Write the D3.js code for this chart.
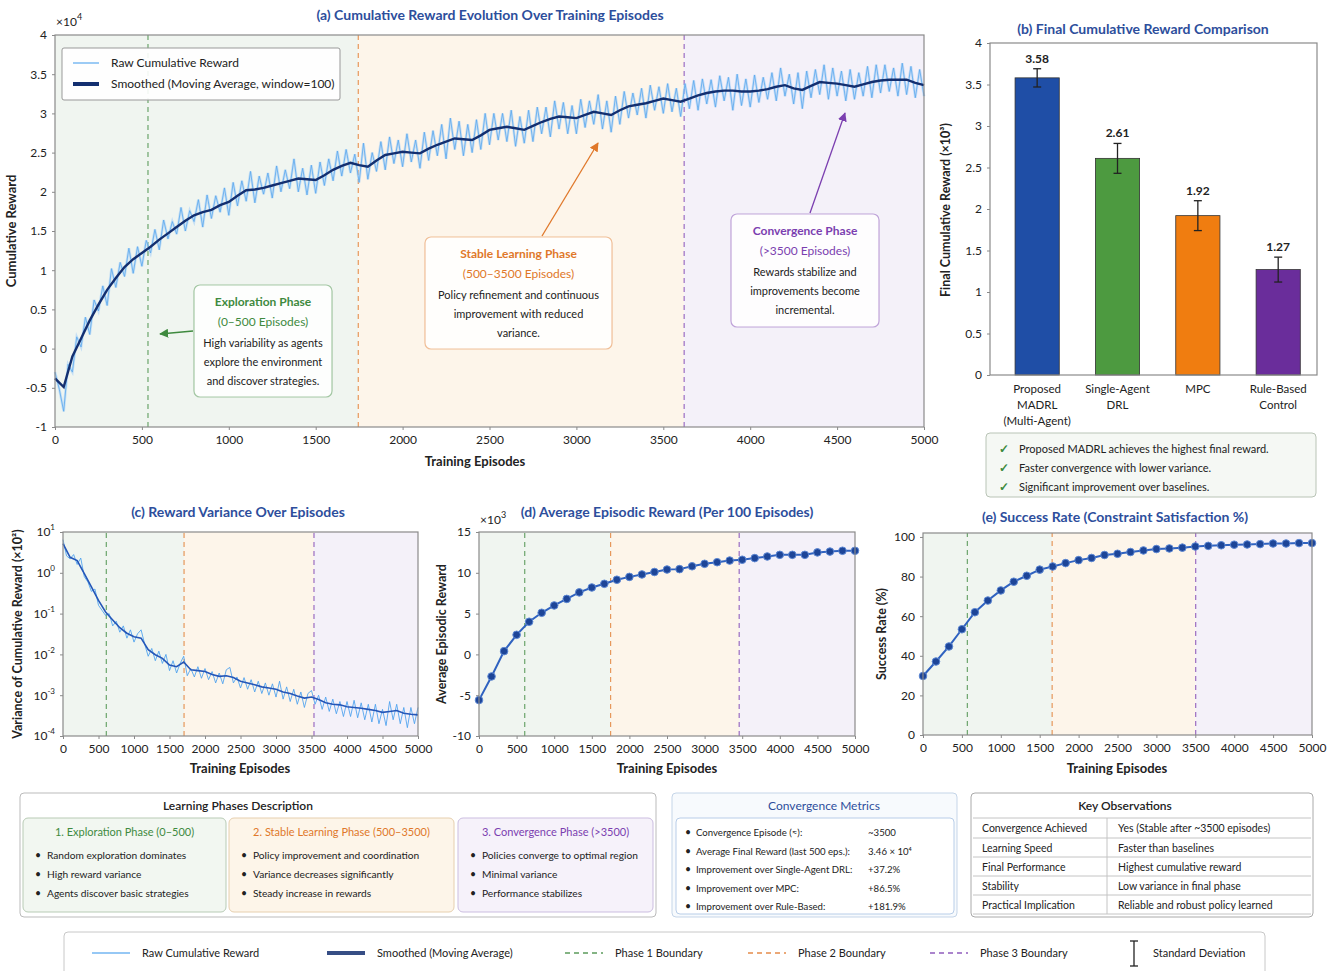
<!DOCTYPE html>
<html><head><meta charset="utf-8">
<script src="https://cdn.jsdelivr.net/npm/d3@7"></script>
<style>
body{margin:0;background:#fff;}
svg{font-family:Lato,"Open Sans",sans-serif;}
</style></head><body>
<script>
// ---------- data ----------
const episodeTicks = [0,500,1000,1500,2000,2500,3000,3500,4000,4500,5000];

// (a) raw cumulative reward (x1e4), one value every 25 episodes
const rawStep = 25;
const rawA = [
 -0.30,-0.52,-0.80,-0.20,-0.30,0.15,0.02,0.40,0.18,0.62,0.48,0.80,0.55,1.02,0.78,1.10,0.92,1.28,0.96,1.30,
 1.05,1.38,1.22,1.52,1.26,1.64,1.40,1.62,1.46,1.80,1.50,1.76,1.62,1.90,1.55,1.96,1.66,1.95,1.74,2.05,
 1.70,2.12,1.82,2.14,1.88,2.26,1.86,2.20,1.97,2.24,1.92,2.33,2.00,2.28,2.04,2.42,2.00,2.30,1.96,2.34,
 1.98,2.38,2.08,2.42,2.14,2.52,2.20,2.54,2.24,2.48,2.12,2.62,2.16,2.50,2.26,2.64,2.28,2.70,2.36,2.66,
 2.32,2.74,2.38,2.66,2.30,2.76,2.40,2.78,2.46,2.86,2.42,2.94,2.54,2.90,2.46,2.86,2.50,2.92,2.54,3.00,
 2.60,3.00,2.66,3.00,2.64,3.04,2.58,2.96,2.62,3.04,2.64,3.08,2.74,3.08,2.70,3.16,2.80,3.14,2.74,3.10,
 2.74,3.18,2.82,3.16,2.86,3.24,2.80,3.16,2.76,3.22,2.86,3.28,2.94,3.26,2.98,3.32,2.94,3.36,3.04,3.34,
 3.00,3.38,3.02,3.32,2.96,3.38,3.06,3.42,3.04,3.44,3.12,3.43,3.08,3.48,3.16,3.46,3.04,3.50,3.10,3.44,
 3.08,3.49,3.14,3.46,3.18,3.52,3.16,3.58,3.22,3.50,3.12,3.52,3.06,3.54,3.20,3.56,3.24,3.62,3.18,3.58,
 3.22,3.54,3.16,3.56,3.18,3.52,3.22,3.60,3.20,3.62,3.26,3.62,3.28,3.58,3.22,3.64,3.24,3.60,3.20,3.56,3.22
];
// (a) smoothed (moving average), one value every 50 episodes
const smoothStep = 50;
const smoothA = [
 -0.38,-0.49,-0.10,0.13,0.36,0.56,0.75,0.90,1.04,1.14,
 1.22,1.30,1.39,1.47,1.55,1.63,1.70,1.74,1.77,1.83,
 1.87,1.95,2.02,2.03,2.05,2.08,2.11,2.14,2.17,2.16,
 2.15,2.21,2.28,2.33,2.37,2.34,2.32,2.40,2.47,2.49,
 2.51,2.50,2.49,2.55,2.60,2.64,2.68,2.67,2.66,2.72,
 2.79,2.81,2.83,2.81,2.79,2.84,2.89,2.93,2.96,2.95,
 2.94,2.98,3.02,3.00,2.98,3.04,3.09,3.11,3.13,3.16,
 3.19,3.17,3.15,3.19,3.23,3.26,3.28,3.29,3.29,3.28,
 3.28,3.29,3.31,3.34,3.36,3.32,3.30,3.35,3.40,3.39,
 3.38,3.36,3.34,3.37,3.40,3.42,3.43,3.43,3.43,3.39,3.36
];
const boundA = [535, 1745, 3620];

// (b) final cumulative reward (x1e4)
const methods = ["Proposed MADRL (Multi-Agent)", "Single-Agent DRL", "MPC", "Rule-Based Control"];
const methodLines = [["Proposed","MADRL","(Multi-Agent)"],["Single-Agent","DRL"],["MPC"],["Rule-Based","Control"]];
const finalReward = [3.58, 2.61, 1.92, 1.27];
const finalStd = [0.11, 0.18, 0.18, 0.15];
const barColors = ["#1f4ea6", "#4d9a40", "#f07d10", "#6a2d9b"];
const checks = ["Proposed MADRL achieves the highest final reward.", "Faster convergence with lower variance.", "Significant improvement over baselines."];

// (c) variance of cumulative reward (x1e2)
const varRawStep = 50;
const varRaw = [6.5,2.6,2.2,2.8,1.6,2.3,0.8,0.6,0.35,0.4,0.16,0.12,0.09,0.1,0.05,0.065,0.035,0.05,0.025,0.04,
 0.02,0.032,0.04,0.018,0.009,0.014,0.007,0.012,0.006,0.01,0.004,0.007,0.0035,0.006,0.009,0.003,0.0045,0.0028,0.005,0.0026,
 0.0045,0.0024,0.0038,0.002,0.0035,0.0019,0.0042,0.0048,0.002,0.0028,0.0015,0.0027,0.0014,0.0024,0.0012,0.0022,0.0011,0.002,0.001,0.0019,
 0.0009,0.0022,0.0008,0.0016,0.0007,0.0014,0.0006,0.0012,0.0005,0.0011,0.0013,0.0006,0.001,0.00045,0.0009,0.0004,0.0008,0.00035,0.0007,0.0003,
 0.0007,0.0003,0.00075,0.00028,0.00065,0.00025,0.0006,0.00022,0.0006,0.0002,0.00045,0.00018,0.0007,0.00025,0.0006,0.0002,0.0005,0.00016,0.0005,0.0002,0.0005];
const varSmoothStep = 100;
const varSmooth = [5.2,2.4,2.0,0.95,0.45,0.21,0.11,0.07,0.045,0.033,0.027,0.025,0.013,0.0098,0.008,0.0055,0.005,0.0065,0.0042,0.004,
 0.0038,0.0032,0.0029,0.003,0.0027,0.0022,0.002,0.0018,0.0016,0.0015,0.0014,0.0012,0.0011,0.00095,0.00085,0.0009,0.00078,0.00065,0.0006,0.00058,
 0.00052,0.0005,0.00048,0.00045,0.00042,0.00038,0.0004,0.00042,0.00036,0.00034,0.00033];
const boundC = [610, 1705, 3535];

// (d) average episodic reward per block (x1e3), (e) success rate %
const blockStep = 5000/30;
const avgReward = [-5.6,-2.7,0.4,2.4,4.0,5.1,6.0,6.8,7.6,8.2,8.65,9.15,9.5,9.8,10.1,10.4,10.45,10.8,11.1,11.3,11.5,11.6,11.8,12.0,12.2,12.2,12.2,12.5,12.6,12.7,12.7];
const boundD = [608, 1750, 3460];
const successRate = [29.8,37.1,44.7,53.4,62.0,67.9,73.0,77.4,80.4,83.5,85.1,86.8,88.3,89.4,90.9,91.5,92.4,93.2,93.9,94.2,94.6,95.2,95.5,95.8,96.1,96.2,96.4,96.7,96.7,96.9,96.9];
const boundE = [570, 1660, 3505];

// bottom tables
const phaseTitles = ["1. Exploration Phase (0–500)", "2. Stable Learning Phase (500–3500)", "3. Convergence Phase (>3500)"];
const phaseBullets = [
 ["Random exploration dominates","High reward variance","Agents discover basic strategies"],
 ["Policy improvement and coordination","Variance decreases significantly","Steady increase in rewards"],
 ["Policies converge to optimal region","Minimal variance","Performance stabilizes"]];
const metricNames = ["Convergence Episode (≈):","Average Final Reward (last 500 eps.):","Improvement over Single-Agent DRL:","Improvement over MPC:","Improvement over Rule-Based:"];
const metricValues = ["~3500","3.46 × 10⁴","+37.2%","+86.5%","+181.9%"];
const obsKeys = ["Convergence Achieved","Learning Speed","Final Performance","Stability","Practical Implication"];
const obsVals = ["Yes (Stable after ~3500 episodes)","Faster than baselines","Highest cumulative reward","Low variance in final phase","Reliable and robust policy learned"];

// ---------- drawing ----------
const C = {green:"#3f8a3f", orange:"#e0782a", purple:"#7b3fb0", title:"#2d4e9c",
  raw:"#5aa8ee", smooth:"#132f70", line:"#2f62c0", bgG:"#f0f5f0", bgO:"#fdf5ea", bgP:"#f4f1f9", frame:"#8a8a8a", txt:"#222"};
const phaseCols = [C.green, C.orange, C.purple];

const svg = d3.select("body").append("svg").attr("width",1333).attr("height",971);
const defs = svg.append("defs");
[["g",C.green],["o",C.orange],["p",C.purple]].forEach(([id,c])=>{
  defs.append("marker").attr("id","arr"+id).attr("viewBox","0 0 10 10").attr("refX",9).attr("refY",5)
    .attr("markerWidth",7).attr("markerHeight",7).attr("orient","auto")
    .append("path").attr("d","M0,0L10,5L0,10z").attr("fill",c);
});

function phaseBg(g,x,y,b){
  const dom = x.domain(), r = y.range();
  const regs = [[dom[0],b[1],C.bgG],[b[1],b[2],C.bgO],[b[2],dom[1],C.bgP]];
  g.selectAll(null).data(regs).join("rect")
    .attr("x",d=>x(d[0])).attr("width",d=>x(d[1])-x(d[0]))
    .attr("y",r[1]).attr("height",r[0]-r[1]).attr("fill",d=>d[2]);
}
function phaseLines(g,x,y,b){
  const r = y.range();
  g.selectAll(null).data(b).join("line")
    .attr("x1",d=>x(d)).attr("x2",d=>x(d)).attr("y1",r[0]).attr("y2",r[1])
    .attr("stroke",(d,i)=>phaseCols[i]).attr("stroke-opacity",0.75)
    .attr("stroke-width",1.2).attr("stroke-dasharray","5,4");
}
function frame(g,x,y){
  const xr=x.range(), yr=y.range();
  g.append("rect").attr("x",xr[0]).attr("y",yr[1]).attr("width",xr[1]-xr[0]).attr("height",yr[0]-yr[1])
    .attr("fill","none").attr("stroke",C.frame).attr("stroke-width",1.2);
}
function xAxis(g,x,y,vals){
  const a = g.append("g").attr("transform",`translate(0,${y.range()[0]})`)
    .call(d3.axisBottom(x).tickValues(vals).tickSize(3).tickPadding(5).tickFormat(d=>d));
  a.select(".domain").remove();
  a.attr("font-family",null).attr("font-size",12);
  a.selectAll("text").attr("fill",C.txt);
  a.selectAll("line").attr("stroke",C.frame);
  return a;
}
function yAxis(g,x,y,vals,fmt){
  const a = g.append("g").attr("transform",`translate(${x.range()[0]},0)`)
    .call(d3.axisLeft(y).tickValues(vals).tickSize(3).tickPadding(5).tickFormat(fmt||(d=>String(d))));
  a.select(".domain").remove();
  a.attr("font-family",null).attr("font-size",12);
  a.selectAll("text").attr("fill",C.txt);
  a.selectAll("line").attr("stroke",C.frame);
  return a;
}
function title(t,x,y){
  svg.append("text").attr("x",x).attr("y",y).attr("text-anchor","middle")
    .attr("font-size",14).attr("font-weight",700).attr("fill",C.title).text(t);
}
function label(t,x,y,rot,size){
  const e = svg.append("text").attr("text-anchor","middle").attr("font-size",size||13).attr("font-weight",700).attr("fill",C.txt).text(t);
  if(rot) e.attr("transform",`translate(${x},${y}) rotate(-90)`); else e.attr("x",x).attr("y",y);
  return e;
}
function sciLabel(x,y,exp){
  const t = svg.append("text").attr("x",x).attr("y",y).attr("font-size",12).attr("fill",C.txt).text("×10");
  t.append("tspan").attr("dy",-6).attr("font-size",9).text(exp);
}

// ===== (a) =====
const xA = d3.scaleLinear().domain([0,5000]).range([55,924]);
const yA = d3.scaleLinear().domain([-1,4]).range([427,35]);
const gA = svg.append("g");
phaseBg(gA,xA,yA,boundA);
phaseLines(gA,xA,yA,boundA);
const rawLine = d3.line().x((d,i)=>xA(i*rawStep)).y(d=>yA(d));
gA.append("path").datum(rawA).attr("d",rawLine)
  .attr("fill","none").attr("stroke","#a9d0f6").attr("stroke-width",2.6).attr("stroke-opacity",0.6);
gA.append("path").datum(rawA).attr("d",rawLine)
  .attr("fill","none").attr("stroke",C.raw).attr("stroke-width",0.9).attr("stroke-opacity",0.9);
gA.append("path").datum(smoothA)
  .attr("d",d3.line().x((d,i)=>xA(i*smoothStep)).y(d=>yA(d)))
  .attr("fill","none").attr("stroke",C.smooth).attr("stroke-width",2.4);
frame(gA,xA,yA);
xAxis(gA,xA,yA,episodeTicks);
yAxis(gA,xA,yA,d3.range(-1,4.01,0.5));
sciLabel(56,26,"4");
title("(a) Cumulative Reward Evolution Over Training Episodes",490,20);
label("Cumulative Reward",16,231,true);
label("Training Episodes",475,466);

// legend (a)
const lgA = svg.append("g");
lgA.append("rect").attr("x",62).attr("y",48).attr("width",278).attr("height",52).attr("rx",2)
  .attr("fill","#fff").attr("fill-opacity",0.9).attr("stroke","#999");
lgA.append("line").attr("x1",73).attr("x2",99).attr("y1",63).attr("y2",63).attr("stroke",C.raw).attr("stroke-width",1.2);
lgA.append("line").attr("x1",73).attr("x2",99).attr("y1",84).attr("y2",84).attr("stroke",C.smooth).attr("stroke-width",4);
lgA.append("text").attr("x",111).attr("y",67).attr("font-size",12).attr("fill",C.txt).text("Raw Cumulative Reward");
lgA.append("text").attr("x",111).attr("y",88).attr("font-size",12).attr("fill",C.txt).text("Smoothed (Moving Average, window=100)");

// annotation boxes
const notes = [
  {x:194,y:285,w:138,h:112,c:C.green,m:"g",head:["Exploration Phase","(0–500 Episodes)"],body:["High variability as agents","explore the environment","and discover strategies."],a:[193,331,160,334]},
  {x:425,y:237,w:187,h:112,c:C.orange,m:"o",head:["Stable Learning Phase","(500–3500 Episodes)"],body:["Policy refinement and continuous","improvement with reduced","variance."],a:[542,236,598,143]},
  {x:731,y:214,w:148,h:113,c:C.purple,m:"p",head:["Convergence Phase","(>3500 Episodes)"],body:["Rewards stabilize and","improvements become","incremental."],a:[810,213,845,113]}
];
notes.forEach(n=>{
  const g = svg.append("g");
  g.append("line").attr("x1",n.a[0]).attr("y1",n.a[1]).attr("x2",n.a[2]).attr("y2",n.a[3])
    .attr("stroke",n.c).attr("stroke-width",1.3).attr("marker-end",`url(#arr${n.m})`);
  g.append("rect").attr("x",n.x).attr("y",n.y).attr("width",n.w).attr("height",n.h).attr("rx",6)
    .attr("fill","#fff").attr("fill-opacity",0.85).attr("stroke",n.c).attr("stroke-opacity",0.45).attr("stroke-width",1.2);
  const cx = n.x+n.w/2;
  n.head.forEach((t,i)=>g.append("text").attr("x",cx).attr("y",n.y+21+i*20).attr("text-anchor","middle")
    .attr("font-size",12).attr("font-weight",i===0?700:400).attr("fill",n.c).text(t));
  n.body.forEach((t,i)=>g.append("text").attr("x",cx).attr("y",n.y+62+i*19).attr("text-anchor","middle")
    .attr("font-size",11).attr("fill",C.txt).text(t));
});

// ===== (b) =====
const xB = d3.scaleBand().domain(methods).range([990,1317]).paddingInner(0.45).paddingOuter(0.26).align(0.6);
const yB = d3.scaleLinear().domain([0,4]).range([375,43]);
const gB = svg.append("g");
gB.selectAll(null).data(finalReward).join("rect")
  .attr("x",(d,i)=>xB(methods[i])).attr("width",xB.bandwidth())
  .attr("y",d=>yB(d)).attr("height",d=>yB(0)-yB(d))
  .attr("fill",(d,i)=>barColors[i]).attr("stroke","#333").attr("stroke-width",0.8);
finalReward.forEach((v,i)=>{
  const cx = xB(methods[i])+xB.bandwidth()/2, lo=yB(v-finalStd[i]), hi=yB(v+finalStd[i]);
  gB.append("line").attr("x1",cx).attr("x2",cx).attr("y1",lo).attr("y2",hi).attr("stroke","#222").attr("stroke-width",1.3);
  [lo,hi].forEach(yy=>gB.append("line").attr("x1",cx-4).attr("x2",cx+4).attr("y1",yy).attr("y2",yy).attr("stroke","#222").attr("stroke-width",1.3));
  gB.append("text").attr("x",cx).attr("y",hi-6).attr("text-anchor","middle").attr("font-size",12).attr("font-weight",700)
    .attr("fill",C.txt).text(v.toFixed(2));
  methodLines[i].forEach((t,j)=>gB.append("text").attr("x",cx).attr("y",393+j*16).attr("text-anchor","middle")
    .attr("font-size",11.5).attr("fill",C.txt).text(t));
});
gB.append("rect").attr("x",990).attr("y",43).attr("width",327).attr("height",332).attr("fill","none").attr("stroke",C.frame).attr("stroke-width",1.2);
yAxis(gB,d3.scaleLinear().range([990,1317]),yB,d3.range(0,4.01,0.5));
title("(b) Final Cumulative Reward Comparison",1143,34);
label("Final Cumulative  Reward  (×10³)",950,210,true,12.5);

const ck = svg.append("g");
ck.append("rect").attr("x",986).attr("y",433).attr("width",330).attr("height",64).attr("rx",4)
  .attr("fill","#f5f8f4").attr("stroke","#b9c4b6");
checks.forEach((t,i)=>{
  ck.append("text").attr("x",999).attr("y",453+i*19).attr("font-size",12).attr("fill","#3c8a3c").attr("font-weight",700).text("✓");
  ck.append("text").attr("x",1019).attr("y",453+i*19).attr("font-size",11).attr("fill",C.txt).text(t);
});

// ===== (c) =====
const xC = d3.scaleLinear().domain([0,5000]).range([63,418]);
const yC = d3.scaleLog().domain([1e-4,1e1]).range([736,532]);
const gC = svg.append("g");
phaseBg(gC,xC,yC,boundC);
phaseLines(gC,xC,yC,boundC);
gC.append("path").datum(varRaw)
  .attr("d",d3.line().x((d,i)=>xC(i*varRawStep)).y(d=>yC(d)))
  .attr("fill","none").attr("stroke","#4aa0ee").attr("stroke-width",1).attr("stroke-opacity",0.85);
gC.append("path").datum(varSmooth)
  .attr("d",d3.line().x((d,i)=>xC(i*varSmoothStep)).y(d=>yC(d)))
  .attr("fill","none").attr("stroke","#2456b8").attr("stroke-width",1.6);
frame(gC,xC,yC);
xAxis(gC,xC,yC,episodeTicks);
const yaC = yAxis(gC,xC,yC,[1e1,1e0,1e-1,1e-2,1e-3,1e-4],d=>"");
yaC.selectAll(".tick text").each(function(d){
  const t = d3.select(this); t.text("10");
  t.append("tspan").attr("dy",-6).attr("font-size",8).text(Math.round(Math.log10(d)));
});
title("(c) Reward Variance Over Episodes",238,517);
label("Variance of Cumulative Reward (×10²)",22,634,true,12.5);
label("Training Episodes",240,773);

// ===== (d) & (e) =====
function markerPanel(vals,x,y,b){
  const g = svg.append("g");
  phaseBg(g,x,y,b);
  phaseLines(g,x,y,b);
  g.append("path").datum(vals).attr("d",d3.line().x((d,i)=>x(i*blockStep)).y(d=>y(d)))
    .attr("fill","none").attr("stroke",C.line).attr("stroke-width",2);
  g.selectAll(null).data(vals).join("circle").attr("cx",(d,i)=>x(i*blockStep)).attr("cy",d=>y(d)).attr("r",3.8)
    .attr("fill","#1d4598").attr("stroke","#5d88d4").attr("stroke-width",1);
  frame(g,x,y);
  xAxis(g,x,y,episodeTicks);
  return g;
}
const xD = d3.scaleLinear().domain([0,5000]).range([479,855]);
const yD = d3.scaleLinear().domain([-10,15]).range([736,532]);
const gD = markerPanel(avgReward,xD,yD,boundD);
yAxis(gD,xD,yD,[-10,-5,0,5,10,15]);
sciLabel(480,524,"3");
title("(d) Average Episodic Reward (Per 100 Episodes)",667,517);
label("Average Episodic Reward",446,634,true,12.5);
label("Training Episodes",667,773);

const xE = d3.scaleLinear().domain([0,5000]).range([923,1312]);
const yE = d3.scaleLinear().domain([0,102]).range([735,533]);
const gE = markerPanel(successRate,xE,yE,boundE);
yAxis(gE,xE,yE,[0,20,40,60,80,100]);
title("(e) Success Rate (Constraint Satisfaction %)",1115,522);
label("Success Rate (%)",886,634,true,12.5);
label("Training Episodes",1117,773);

// ===== bottom boxes =====
const gb = svg.append("g");
gb.append("rect").attr("x",20).attr("y",793).attr("width",636).attr("height",124).attr("rx",4).attr("fill","#fff").attr("stroke","#bbb");
gb.append("text").attr("x",238).attr("y",810).attr("text-anchor","middle").attr("font-size",12).attr("font-weight",600).attr("fill",C.txt).text("Learning Phases Description");
const sub = [{x:23,w:203,bg:"#f2f7f1",st:"#b8cbb5"},{x:229,w:225,bg:"#fdf5e9",st:"#e6cfae"},{x:458,w:195,bg:"#f6f2fa",st:"#cbbde0"}];
sub.forEach((s,i)=>{
  gb.append("rect").attr("x",s.x).attr("y",818).attr("width",s.w).attr("height",94).attr("rx",5).attr("fill",s.bg).attr("stroke",s.st);
  gb.append("text").attr("x",s.x+s.w/2).attr("y",836).attr("text-anchor","middle").attr("font-size",11).attr("fill",phaseCols[i]).text(phaseTitles[i]);
  phaseBullets[i].forEach((t,j)=>{
    gb.append("text").attr("x",s.x+12).attr("y",859+j*19).attr("font-size",10.5).attr("fill",C.txt).text("•");
    gb.append("text").attr("x",s.x+24).attr("y",859+j*19).attr("font-size",10.2).attr("fill",C.txt).text(t);
  });
});

gb.append("rect").attr("x",672).attr("y",793).attr("width",285).attr("height",124).attr("rx",4).attr("fill","#f7fafd").attr("stroke","#c5d5e8");
gb.append("text").attr("x",824).attr("y",810).attr("text-anchor","middle").attr("font-size",12).attr("fill",C.title).text("Convergence Metrics");
gb.append("rect").attr("x",676).attr("y",818).attr("width",278).attr("height",96).attr("rx",4).attr("fill","#fff").attr("stroke","#b8cde8");
metricNames.forEach((t,j)=>{
  const yy = 836+j*18.5;
  gb.append("text").attr("x",685).attr("y",yy).attr("font-size",10.5).attr("fill",C.txt).text("•");
  gb.append("text").attr("x",696).attr("y",yy).attr("font-size",9.6).attr("fill",C.txt).text(t);
  gb.append("text").attr("x",868).attr("y",yy).attr("font-size",9.6).attr("fill",C.txt).text(metricValues[j]);
});

gb.append("rect").attr("x",971).attr("y",793).attr("width",342).attr("height",124).attr("rx",4).attr("fill","#fff").attr("stroke","#aaa");
gb.append("text").attr("x",1125).attr("y",810).attr("text-anchor","middle").attr("font-size",12).attr("font-weight",600).attr("fill",C.txt).text("Key Observations");
const rowY = [818,838,857,876,895,914];
rowY.forEach(yy=>gb.append("line").attr("x1",973).attr("x2",1311).attr("y1",yy).attr("y2",yy).attr("stroke","#c4c4c4"));
gb.append("line").attr("x1",1107).attr("x2",1107).attr("y1",818).attr("y2",914).attr("stroke","#c4c4c4");
obsKeys.forEach((t,j)=>{
  const yy = (rowY[j]+rowY[j+1])/2+4;
  gb.append("text").attr("x",982).attr("y",yy).attr("font-size",10.5).attr("fill",C.txt).text(t);
  gb.append("text").attr("x",1118).attr("y",yy).attr("font-size",10.5).attr("fill",C.txt).text(obsVals[j]);
});

// ===== bottom legend =====
const lg = svg.append("g");
lg.append("rect").attr("x",64).attr("y",932).attr("width",1201).attr("height",44).attr("rx",4).attr("fill","#fff").attr("stroke","#c8c8c8");
const items = [
  {x:92,t:"Raw Cumulative Reward",c:C.raw,w:1.5,d:null},
  {x:327,t:"Smoothed (Moving Average)",c:C.smooth,w:4,d:null},
  {x:565,t:"Phase 1 Boundary",c:C.green,w:1.5,d:"5,4"},
  {x:748,t:"Phase 2 Boundary",c:C.orange,w:1.5,d:"5,4"},
  {x:930,t:"Phase 3 Boundary",c:C.purple,w:1.5,d:"5,4"}
];
items.forEach(it=>{
  lg.append("line").attr("x1",it.x).attr("x2",it.x+38).attr("y1",953).attr("y2",953)
    .attr("stroke",it.c).attr("stroke-width",it.w).attr("stroke-dasharray",it.d).attr("stroke-opacity",0.85);
  lg.append("text").attr("x",it.x+50).attr("y",957).attr("font-size",11).attr("fill",C.txt).text(it.t);
});
lg.append("line").attr("x1",1134).attr("x2",1134).attr("y1",941).attr("y2",966).attr("stroke","#222").attr("stroke-width",1.3);
[941,966].forEach(yy=>lg.append("line").attr("x1",1130).attr("x2",1138).attr("y1",yy).attr("y2",yy).attr("stroke","#222").attr("stroke-width",1.3));
lg.append("text").attr("x",1153).attr("y",957).attr("font-size",11).attr("fill",C.txt).text("Standard Deviation");
</script>
</body></html>
